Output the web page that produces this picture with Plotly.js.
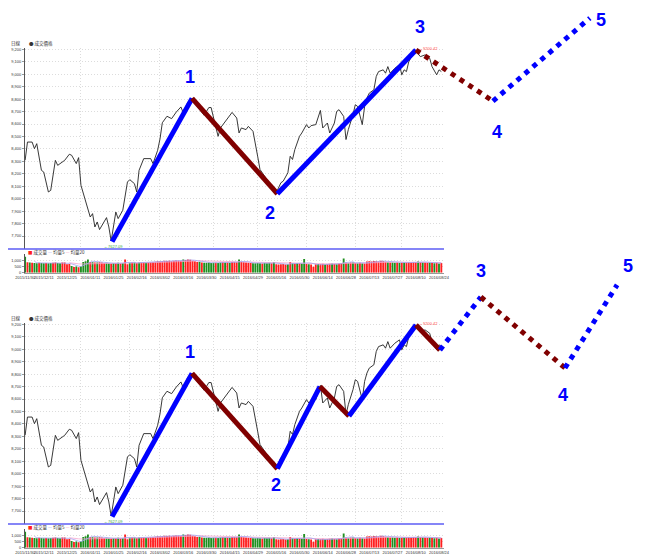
<!DOCTYPE html>
<html><head><meta charset="utf-8">
<script src="https://cdn.plot.ly/plotly-3.0.1.min.js"></script>
<style>html,body{margin:0;padding:0;background:#fff;}#chart{width:657px;height:557px;}</style>
</head><body><div id="chart"></div>
<script>
// ---------------- data ----------------
const priceDays = [2,3,5,6,7,9,10,12,13,15,16,19,21,22,24,25,26,28,30,31,32,33,34,37,38,39,41,42,44,46,47,49,50,51,53,56,57,59,60,61,63,65,67,69,70,72,74,76,79,81,82,84,85,86,89,91,93,94,95,97,98,100,102,103,105,108,110,112,113,115,116,117,118,120,121,123,124,125,127,129,130,132,133,135,136,137,139,140,141,143,144,145,147,148,149,150,152,153,154,156,157,158,159,161,163,164,165,166,167,169,170,172,174,176,177,179,180,181];
const priceVals = [8309,8455,8455,8402,8442,8228,8214,8054,8067,8308,8268,8308,8357,8349,8282,8330,8108,7974,7853,7880,7773,7813,7752,7848,7773,7660,7893,7840,7907,8134,8153,8121,8054,8228,8322,8322,8282,8389,8480,8610,8662,8643,8696,8737,8690,8777,8806,8740,8670,8732,8732,8576,8501,8568,8648,8693,8648,8528,8568,8555,8581,8541,8341,8235,8181,8101,8048,8128,8141,8208,8341,8315,8395,8501,8528,8595,8568,8587,8595,8709,8568,8608,8528,8608,8701,8715,8661,8475,8555,8675,8755,8741,8595,8741,8808,8848,8875,8981,9021,9035,9008,9061,9008,9048,9075,8995,9035,9021,9101,9168,9185,9141,9155,9128,9061,8995,9035,9021];

const volStartDay = 2;
const volume = [
1330,880,860,820,800,790,820,800,780,800,
780,800,820,860,800,780,860,840,700,720,
560,480,520,460,540,900,950,1100,900,880,
860,840,880,860,800,820,780,760,800,780,
820,760,800,1110,700,820,840,860,800,850,
860,840,820,860,880,900,920,950,940,960,
1000,980,1000,960,1000,1020,1000,980,1100,1050,
1100,1080,1000,950,900,920,860,830,820,850,
800,830,820,800,850,880,860,840,820,900,
900,880,1100,900,880,860,820,800,780,790,
800,780,760,800,780,820,780,900,700,680,
700,720,680,700,900,780,760,800,780,760,
1140,720,700,680,500,700,720,700,740,700,
720,740,760,720,700,760,780,1190,820,800,
860,840,800,780,820,780,760,940,960,940,
980,960,940,1000,960,920,880,860,840,820,
860,800,820,840,860,880,860,900,880,940,
900,880,860,820,840,800,780,820,760,800];
const volDir = "grgrggrggr"+"ggrrggrrrr"+"grgrggggrg"+"rgrrrggrgr"+"grgrrgrgrg"+"rrgrrrrrrr"+"rrrrrrrrgr"+"rrrrrgrggg"+"ggrggrgrgr"+"rrgrrrrrgg"+"ggrgggrgrr"+"rrrgrgrgrg"+"grgrrrgrrg"+"rrgrgrrgrg"+"rgrgrgrrrr"+"rrrrrrgrgg"+"rgrgrrrrrg"+"rgrrgrgrgr";

const tickDays = [2,10,20,30,40,50,60,70,80,90,100,110,120,130,140,150,160,170,180];
const tickLabels = ['2015/11/30','2015/12/11','2015/12/25','2016/01/11','2016/01/25','2016/02/16','2016/03/02','2016/03/16','2016/03/30','2016/04/15','2016/04/29','2016/05/16','2016/05/30','2016/06/14','2016/06/28','2016/07/13','2016/07/27','2016/08/10','2016/08/24'];
const monthStartDays = [26,47,60,83,102,123,144,164];
const priceTicks = [7700,7800,7900,8000,8100,8200,8300,8400,8500,8600,8700,8800,8900,9000,9100,9200];
const volTicks = [0,500,1000];
const highLabel = '←9200.42';
const lowLabel = '←7627.09';

// wave counts (day, price); segment kinds: up / dn solid, upP / dnP projected
const waveTopDays   = [39.4, 73.8, 110.5, 170.1, 203.2, 244.9];
const waveTopPrices = [7655, 8806, 8040, 9194, 8784, 9451];
const waveTopKinds  = ['up','dn','up','dnP','upP'];
const waveTopLabelIdx = [1,2,3,4,5];
const waveTopLabels = ['1','2','3','4','5'];

const waveBotDays   = [39.4, 73.8, 110.5, 128.8, 141.3, 170.1, 180.4, 198.0, 234.2, 256.6];
const waveBotPrices = [7655, 8806, 8040, 8700, 8463, 9194, 8994, 9419, 8849, 9516];
const waveBotKinds  = ['up','dn','up','dn','up','dn','upP','dnP','upP'];
const waveBotLabelIdx = [1,2,7,8,9];
const waveBotLabels = ['1','2','3','4','5'];

// ---------------- layout helpers ----------------
const W = 657, H = 557;
const fx = p => p / W, fy = p => 1 - p / H;
const L = 25, R = 444;
const dayRange = [1.94, 182.15];
const priceRange = [7596, 9210.4];
const volRange = [0, 1558];
function lin(range, a0, a1, b0, b1) {
  const k = (range[1] - range[0]) / (a1 - a0);
  return [range[0] + (b0 - a0) * k, range[0] + (b1 - a0) * k];
}
const RED = '#ff1f1f', GREEN = '#1f8f1f', BLUE = '#0000ff', MAROON = '#800000';
const GRID = '#dcdcdc';
const GDASH = '1px,2px';
const tickFont = {size: 4, color: '#333', family: 'Liberation Sans, Arial, sans-serif'};
const cjk = 'Noto Sans CJK TC, sans-serif';

function ma(arr, n) {
  const out = [];
  for (let i = 0; i < arr.length; i++) {
    if (i < n - 1) { out.push(null); continue; }
    let s = 0; for (let j = i - n + 1; j <= i; j++) s += arr[j];
    out.push(s / n);
  }
  return out;
}
const volDays = volume.map((v, i) => volStartDay + i);
const volColors = volume.map((v, i) => volDir[i] === 'r' ? RED : GREEN);
const ma5 = ma(volume, 5), ma20 = ma(volume, 20);

const data = [], annotations = [], shapes = [];
const layout = {
  width: W, height: H, margin: {l: 0, r: 0, t: 0, b: 0},
  paper_bgcolor: '#fff', plot_bgcolor: 'rgba(0,0,0,0)', showlegend: false,
  font: {family: 'Liberation Sans, Arial, sans-serif'}, bargap: 0.2
};

function buildChart(off, ids, waveDays, wavePrices, waveKinds, labelIdx, labels, labelShift) {
  const [pa, va, oa] = ids;
  const sx = n => n === 1 ? '' : n;
  // price axes
  layout['xaxis' + sx(pa)] = {domain: [fx(L), fx(R)], range: dayRange, anchor: 'y' + sx(pa),
    tickmode: 'array', tickvals: monthStartDays, showticklabels: false, ticks: '',
    showgrid: true, gridcolor: GRID, griddash: GDASH, gridwidth: 1, zeroline: false, showline: false, fixedrange: true};
  layout['yaxis' + sx(pa)] = {domain: [fy(249 + off), fy(48 + off)], range: priceRange, anchor: 'x' + sx(pa),
    tickmode: 'array', tickvals: priceTicks, tickformat: ',', ticks: 'outside', ticklen: 2, tickwidth: 0.6, tickcolor: '#555',
    showline: true, linecolor: '#555', linewidth: 1, showgrid: true, gridcolor: GRID, griddash: GDASH, gridwidth: 1,
    zeroline: false, tickfont: tickFont, fixedrange: true};
  // volume axes
  layout['xaxis' + sx(va)] = {domain: [fx(L), fx(R)], range: dayRange, anchor: 'y' + sx(va),
    tickmode: 'array', tickvals: tickDays, ticktext: tickLabels, tickangle: 0, ticks: '', tickfont: tickFont,
    showline: true, linecolor: '#999', linewidth: 1, showgrid: false, zeroline: false, fixedrange: true};
  layout['yaxis' + sx(va)] = {domain: [fy(272.7 + off), fy(254 + off)], range: volRange, anchor: 'x' + sx(va),
    tickmode: 'array', tickvals: volTicks, tickformat: ',', ticks: 'outside', ticklen: 2, tickwidth: 0.6, tickcolor: '#555',
    showline: true, linecolor: '#555', linewidth: 1, showgrid: true, gridcolor: GRID, griddash: GDASH,
    zeroline: false, tickfont: tickFont, fixedrange: true};
  // overlay axes for the wave count (same scale, extended to the right / top)
  const ovTop = off === 0 ? 0 : 256, ovBot = 249 + off;
  layout['xaxis' + oa] = {domain: [fx(L), 1], range: lin(dayRange, L, R, L, W), anchor: 'y' + oa, visible: false, fixedrange: true};
  layout['yaxis' + oa] = {domain: [fy(ovBot), fy(ovTop)],
    range: lin(priceRange, H - 249 - off, H - 48 - off, H - ovBot, H - ovTop), anchor: 'x' + oa, visible: false, fixedrange: true};

  const xp = 'x' + sx(pa), yp = 'y' + sx(pa), xv = 'x' + sx(va), yv = 'y' + sx(va);
  data.push({type: 'bar', x: volDays, y: volume, xaxis: xv, yaxis: yv, marker: {color: volColors, line: {width: 0}}, hoverinfo: 'skip'});
  data.push({type: 'scatter', mode: 'lines', x: volDays, y: ma20, xaxis: xv, yaxis: yv, line: {color: '#f4a6cf', width: 0.8}, hoverinfo: 'skip'});
  data.push({type: 'scatter', mode: 'lines', x: volDays, y: ma5, xaxis: xv, yaxis: yv, line: {color: '#a3a3f0', width: 0.8}, hoverinfo: 'skip'});
  data.push({type: 'scatter', mode: 'lines', x: priceDays, y: priceVals, xaxis: xp, yaxis: yp, line: {color: '#222', width: 0.9}, hoverinfo: 'skip'});

  // hi / lo labels
  const hiI = priceVals.indexOf(Math.max(...priceVals)), loI = priceVals.indexOf(Math.min(...priceVals));
  annotations.push({xref: xp, yref: yp, x: priceDays[hiI], y: priceVals[hiI], text: highLabel, showarrow: false,
    xanchor: 'left', yanchor: 'middle', xshift: 1, yshift: 2.5, font: {size: 4, color: '#ff4a4a'}});
  annotations.push({xref: xp, yref: yp, x: priceDays[loI], y: priceVals[loI], text: lowLabel, showarrow: false,
    xanchor: 'center', yanchor: 'middle', xshift: 2, yshift: -5.5, font: {size: 4, color: '#3aa83a'}});

  // wave segments
  const xo = 'x' + oa, yo = 'y' + oa;
  waveKinds.forEach((k, i) => {
    const col = k.startsWith('up') ? BLUE : MAROON;
    const proj = k.endsWith('P');
    data.push({type: 'scatter', mode: 'lines', x: [waveDays[i], waveDays[i + 1]], y: [wavePrices[i], wavePrices[i + 1]],
      xaxis: xo, yaxis: yo, line: {color: col, width: 5, dash: proj ? '5px,5.5px' : 'solid'}, hoverinfo: 'skip'});
  });
  labelIdx.forEach((idx, j) => {
    annotations.push({xref: xo, yref: yo, x: waveDays[idx], y: wavePrices[idx], text: labels[j], showarrow: false,
      xanchor: 'center', yanchor: 'middle', xshift: labelShift[j][0], yshift: labelShift[j][1],
      font: {size: 18, color: BLUE, family: 'Liberation Sans, Arial, sans-serif', weight: 'bold'}});
  });

  // legends & separator
  annotations.push({xref: 'paper', yref: 'paper', x: fx(9), y: fy(43.5 + off), xanchor: 'left', yanchor: 'middle', showarrow: false,
    text: '日線', font: {size: 4.5, color: '#333', family: cjk}});
  annotations.push({xref: 'paper', yref: 'paper', x: fx(26.5), y: fy(43.5 + off), xanchor: 'left', yanchor: 'middle', showarrow: false,
    text: '● 成交價格', font: {size: 4.5, color: '#333', family: cjk}});
  annotations.push({xref: 'paper', yref: 'paper', x: fx(26), y: fy(252 + off), xanchor: 'left', yanchor: 'middle', showarrow: false,
    text: '<span style="color:' + RED + '">■</span> 成交量 <span style="color:#9a9af0">—</span> 均量5 <span style="color:#f090c0">—</span> 均量20',
    font: {size: 4.5, color: '#333', family: cjk}});
  shapes.push({type: 'line', xref: 'paper', yref: 'paper', x0: fx(8), x1: fx(R), y0: fy(249 + off), y1: fy(249 + off),
    line: {color: '#5c5cf5', width: 1.5}});
}

buildChart(0, [1, 2, 5], waveTopDays, waveTopPrices, waveTopKinds, waveTopLabelIdx, waveTopLabels,
  [[-2, 21], [-7, -19], [4, 23], [4, -31], [11, -2]]);
buildChart(275, [3, 4, 6], waveBotDays, waveBotPrices, waveBotKinds, waveBotLabelIdx, waveBotLabels,
  [[-2, 21], [-1, -16], [0, 26], [-2, -27], [11, 19]]);

layout.annotations = annotations;
layout.shapes = shapes;
Plotly.newPlot('chart', data, layout, {displayModeBar: false, staticPlot: true});
</script>
</body></html>
